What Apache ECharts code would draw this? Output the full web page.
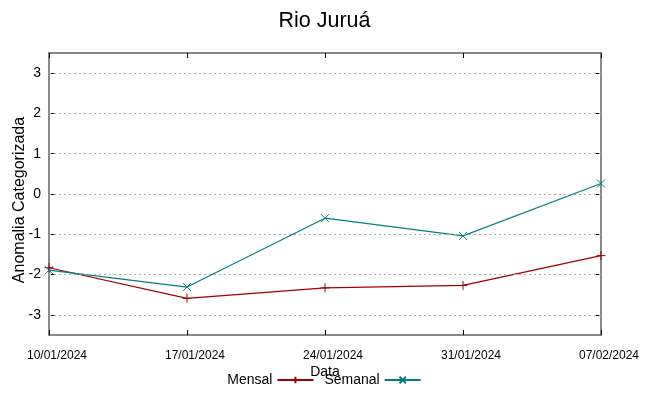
<!DOCTYPE html>
<html><head><meta charset="utf-8">
<script src="https://cdn.jsdelivr.net/npm/echarts@6/dist/echarts.min.js"></script>
<style>html,body{margin:0;padding:0;background:#fff}#c{width:649px;height:396px}</style>
</head><body><div id="c"></div>
<script>
const categories = ['10/01/2024','17/01/2024','24/01/2024','31/01/2024','07/02/2024'];
const mensal = [-1.83, -2.59, -2.33, -2.27, -1.53];
const semanal = [-1.89, -2.31, -0.6, -1.04, 0.26];
const yTicks = [-3, -2, -1, 0, 1, 2, 3];

const red = '#a00000', teal = '#008080', frame = '#606060';
const font = 'Liberation Sans, Arial, sans-serif';
const plus = 'path://M0,5L10,5M5,0L5,10';
const cross = 'path://M0,0L10,10M0,10L10,0';

const chart = echarts.init(document.getElementById('c'));
chart.setOption({
  animation: false,
  title: {text: 'Rio Juruá', left: 'center', top: 5,
    textStyle: {fontFamily: font, fontSize: 21.5, fontWeight: 'normal', color: '#000'}},
  grid: {left: 49, right: 48, top: 53, bottom: 61, containLabel: false, outerBoundsMode: 'none'},
  legend: {bottom: 4, left: 'center', align: 'right', itemWidth: 36, itemHeight: 8, itemGap: 10,
    textStyle: {fontFamily: font, fontSize: 14, color: '#000'},
    data: ['Mensal', 'Semanal']},
  xAxis: [{type: 'category', data: categories, boundaryGap: false,
    name: 'Data', nameLocation: 'middle', nameGap: 30, nameMoveOverlap: false,
    nameTextStyle: {fontFamily: font, fontSize: 14, color: '#000'},
    axisLine: {onZero: false, lineStyle: {color: frame, width: 1.5}},
    axisTick: {inside: true, length: 5, lineStyle: {color: '#000'}},
    axisLabel: {fontFamily: font, fontSize: 12, color: '#000', margin: 15, padding: [0, 0, 0, 16]},
    splitLine: {show: false}},
   {type: 'category', data: categories, boundaryGap: false, position: 'top',
    axisLine: {onZero: false, lineStyle: {color: frame, width: 1.5}},
    axisTick: {inside: true, length: 5, lineStyle: {color: '#000'}},
    axisLabel: {show: false}, splitLine: {show: false}}],
  yAxis: [{type: 'value', min: -3.5, max: 3.5,
    name: 'Anomalia Categorizada', nameLocation: 'middle', nameGap: 21, nameMoveOverlap: false,
    nameTextStyle: {fontFamily: font, fontSize: 16, color: '#000', padding: [0, 12, 0, 0]},
    axisLine: {show: true, onZero: false, lineStyle: {color: frame, width: 1.5}},
    axisTick: {show: true, inside: true, length: 5, customValues: yTicks, lineStyle: {color: '#000'}},
    axisLabel: {fontFamily: font, fontSize: 14, color: '#000', margin: 8, customValues: yTicks},
    splitLine: {show: false}},
   {type: 'value', min: -3.5, max: 3.5, position: 'right',
    axisLine: {show: true, onZero: false, lineStyle: {color: frame, width: 1.5}},
    axisTick: {show: true, inside: true, length: 5, customValues: yTicks, lineStyle: {color: '#000'}},
    axisLabel: {show: false, customValues: yTicks},
    splitLine: {show: false}}],
  series: [
    {name: 'Mensal', type: 'line', data: mensal, symbol: plus, symbolSize: 9,
     lineStyle: {color: red, width: 1.2}, itemStyle: {color: red, borderColor: red, borderWidth: 1},
     markLine: {silent: true, symbol: 'none', label: {show: false},
       lineStyle: {color: '#aaa', type: [2, 3], width: 1},
       data: yTicks.map(v => ({yAxis: v}))}},
    {name: 'Semanal', type: 'line', data: semanal, symbol: cross, symbolSize: 8,
     lineStyle: {color: teal, width: 1.2}, itemStyle: {color: teal, borderColor: teal, borderWidth: 1}}
  ]
});
</script></body></html>
